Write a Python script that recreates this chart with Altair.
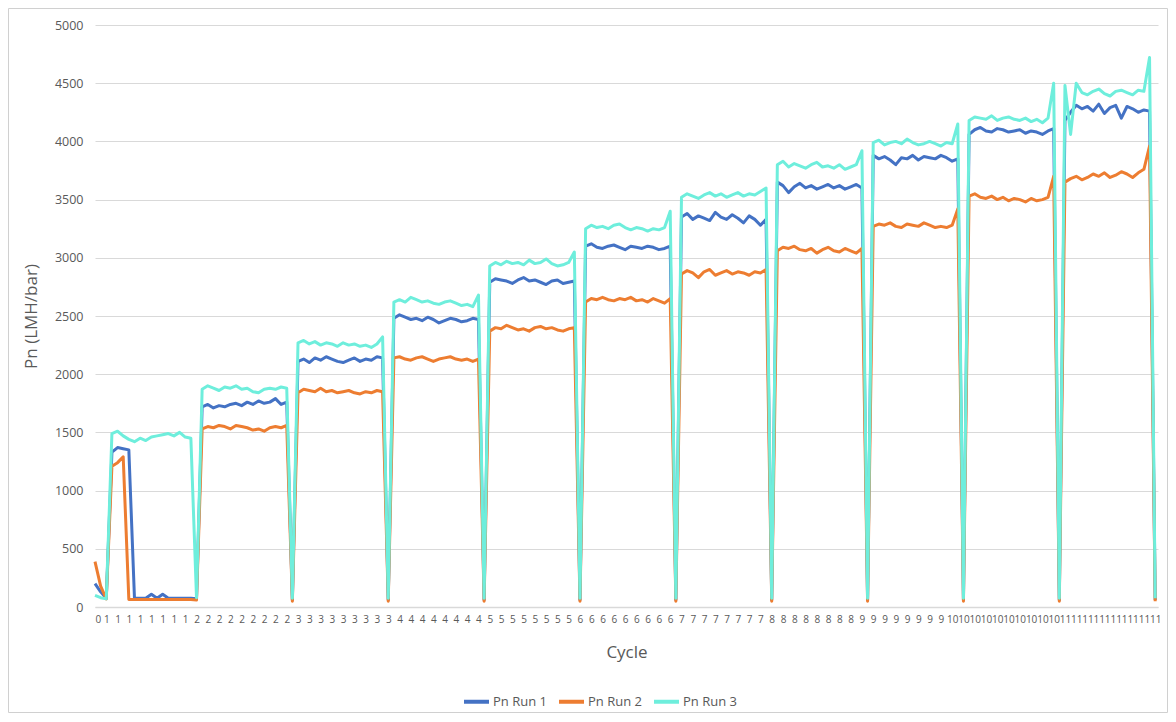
import altair as alt
import pandas as pd

# Tick labels of the category axis (one label every 2 samples)
cycle_labels = (
    ["0"]
    + ["1", "1", "1", "1", "1", "1", "1", "1"]
    + ["2", "2", "2", "2", "2", "2", "2", "2", "2"]
    + ["3", "3", "3", "3", "3", "3", "3", "3", "3"]
    + ["4", "4", "4", "4", "4", "4", "4", "4"]
    + ["5", "5", "5", "5", "5", "5", "5", "5"]
    + ["6", "6", "6", "6", "6", "6", "6", "6", "6"]
    + ["7", "7", "7", "7", "7", "7", "7", "7"]
    + ["8", "8", "8", "8", "8", "8", "8", "8"]
    + ["9", "9", "9", "9", "9", "9", "9", "9"]
    + ["10", "10", "10", "10", "10", "10", "10", "10", "10", "10"]
    + ["11", "11", "11", "11", "11", "11", "11", "11", "11"]
)

series_names = ["Pn Run 1", "Pn Run 2", "Pn Run 3"]
series_colors = ["#4472C4", "#ED7D31", "#6EEEDC"]
y_ticks = [0, 500, 1000, 1500, 2000, 2500, 3000, 3500, 4000, 4500, 5000]

run1 = [
    200, 130, 75,
    1330, 1370, 1360, 1350, 75, 75, 75, 110, 75, 110, 75, 75, 75, 75, 75,
    70,
    1720, 1740, 1710, 1730, 1720, 1740, 1750, 1730, 1760, 1740, 1770, 1750, 1760, 1790, 1740, 1760,
    60,
    2110, 2130, 2100, 2140, 2120, 2150, 2130, 2110, 2100, 2120, 2140, 2110, 2130, 2120, 2150, 2140,
    60,
    2480, 2510, 2490, 2470, 2480, 2460, 2490, 2470, 2440, 2460, 2480, 2470, 2450, 2460, 2480, 2470,
    60,
    2790, 2820, 2810, 2800, 2780, 2810, 2830, 2800, 2810, 2790, 2770, 2800, 2810, 2780, 2790, 2800,
    60,
    3100, 3120, 3090, 3080, 3100, 3110, 3090, 3070, 3100, 3090, 3080, 3100, 3090, 3070, 3080, 3100,
    60,
    3350, 3380, 3330, 3360, 3340, 3320, 3390, 3350, 3330, 3370, 3340, 3300, 3360, 3330, 3280, 3330,
    60,
    3650, 3620, 3560, 3610, 3640, 3600, 3620, 3590, 3610, 3630, 3600, 3620, 3590, 3610, 3630, 3600,
    60,
    3880, 3850, 3870, 3840, 3800, 3860, 3850, 3880, 3840, 3870, 3860, 3850, 3880, 3860, 3830, 3850,
    60,
    4060, 4100, 4120, 4090, 4080, 4110, 4100, 4080, 4090, 4100, 4070, 4090, 4080, 4060, 4090, 4110,
    60,
    4180, 4250, 4310, 4280, 4300, 4260, 4320, 4240, 4290, 4310, 4200, 4300, 4280, 4250, 4270, 4260,
    60,
]

run2 = [
    390, 180, 70,
    1210, 1240, 1290, 65, 65, 65, 65, 65, 65, 65, 65, 65, 65, 65, 65,
    60,
    1530, 1550, 1540, 1560, 1550, 1530, 1560, 1550, 1540, 1520, 1530, 1510, 1540, 1550, 1540, 1560,
    50,
    1840, 1870, 1860, 1850, 1880, 1850, 1860, 1840, 1850, 1860, 1840, 1830, 1850, 1840, 1860, 1850,
    50,
    2140, 2150, 2130, 2120, 2140, 2150, 2130, 2110, 2130, 2140, 2150, 2130, 2120, 2130, 2110, 2130,
    50,
    2370, 2400, 2390, 2420, 2400, 2380, 2390, 2370, 2400, 2410, 2390, 2400, 2380, 2370, 2390, 2400,
    50,
    2620, 2650, 2640, 2660, 2640, 2630, 2650, 2640, 2660, 2630, 2640, 2620, 2650, 2630, 2610, 2650,
    50,
    2860, 2890, 2870, 2830, 2880, 2900, 2850, 2870, 2890, 2860, 2880, 2870, 2850, 2880, 2870, 2900,
    50,
    3060, 3090, 3080, 3100, 3070, 3060, 3080, 3040, 3070, 3090, 3060, 3050, 3080, 3060, 3040, 3080,
    50,
    3270, 3290, 3280, 3300, 3270, 3260, 3290, 3280, 3270, 3300, 3280, 3260, 3270, 3260, 3280, 3420,
    50,
    3530, 3550, 3520, 3510, 3530, 3500, 3520, 3490, 3510, 3500, 3480, 3510, 3490, 3500, 3520, 3700,
    50,
    3650, 3680, 3700, 3670, 3690, 3720, 3700, 3730, 3690, 3710, 3740, 3720, 3690, 3730, 3760, 3960,
    50,
]

run3 = [
    100, 80, 70,
    1490, 1510, 1470, 1440, 1420, 1450, 1430, 1460, 1470, 1480, 1490, 1470, 1500, 1460, 1450,
    80,
    1870, 1900, 1880, 1860, 1890, 1880, 1900, 1870, 1880, 1850, 1840, 1870, 1880, 1870, 1890, 1880,
    75,
    2270, 2290, 2260, 2280, 2250, 2270, 2260, 2240, 2270, 2250, 2260, 2240, 2250, 2230, 2260, 2320,
    75,
    2620, 2640, 2620, 2660, 2640, 2620, 2630, 2610, 2600, 2620, 2630, 2610, 2590, 2600, 2580, 2680,
    75,
    2930, 2960, 2940, 2970, 2950, 2960, 2940, 2980, 2950, 2960, 2990, 2950, 2930, 2940, 2960, 3050,
    75,
    3250, 3280, 3260, 3270, 3250, 3280, 3290, 3260, 3240, 3260, 3250, 3230, 3250, 3240, 3260, 3400,
    75,
    3520, 3550, 3530, 3510, 3540, 3560, 3530, 3550, 3520, 3540, 3560, 3530, 3550, 3540, 3570, 3600,
    75,
    3800, 3830, 3780, 3810, 3790, 3770, 3800, 3820, 3780, 3790, 3770, 3800, 3760, 3780, 3800, 3920,
    75,
    3990, 4010, 3970, 3990, 4000, 3980, 4020, 3990, 3970, 3980, 4000, 3980, 3960, 3990, 3980, 4150,
    75,
    4180, 4210, 4200, 4190, 4220, 4180, 4200, 4210, 4190, 4180, 4200, 4170, 4190, 4160, 4200, 4500,
    75,
    4480, 4060, 4500, 4420, 4400, 4430, 4450, 4410, 4390, 4430, 4440, 4420, 4400, 4440, 4430, 4720,
    75,
]

assert len(run1) == len(run2) == len(run3) == 189
assert len(cycle_labels) == 95

rows = []
for name, vals in zip(series_names, [run1, run2, run3]):
    for k, v in enumerate(vals):
        rows.append({"sample": k, "Pn": v, "series": name})
df = pd.DataFrame(rows)

label_js = "[" + ",".join("'" + s + "'" for s in cycle_labels) + "]"
tick_values = [2 * i for i in range(len(cycle_labels))]

GRAY = "#595959"
GRID = "#D9D9D9"
W, H = 1063, 582

lines = alt.Chart(df).mark_line(strokeWidth=3, strokeJoin="round").encode(
    x=alt.X(
        "sample:Q",
        scale=alt.Scale(domain=[0, 188.5], nice=False, zero=False),
        axis=alt.Axis(
            title="Cycle",
            values=tick_values,
            labelExpr=label_js + "[datum.value/2]",
            labelOverlap=False,
            labelFontSize=10,
            labelColor=GRAY,
            labelPadding=7,
            ticks=False,
            grid=False,
            domainColor=GRID,
            domainWidth=1.5,
            titleFontSize=17,
            titleFontWeight="normal",
            titleColor=GRAY,
            titlePadding=20,
        ),
    ),
    y=alt.Y(
        "Pn:Q",
        scale=alt.Scale(domain=[0, 5000], nice=False),
        axis=alt.Axis(
            title="Pn (LMH/bar)",
            values=y_ticks,
            format="d",
            labelFontSize=12.5,
            labelColor=GRAY,
            labelPadding=12,
            ticks=False,
            domain=False,
            gridColor=GRID,
            gridWidth=1,
            titleFontSize=17,
            titleFontWeight="normal",
            titleColor=GRAY,
            titlePadding=14,
        ),
    ),
    color=alt.Color(
        "series:N",
        scale=alt.Scale(domain=series_names, range=series_colors),
        legend=alt.Legend(
            title=None,
            orient="none",
            direction="horizontal",
            legendX=367,
            legendY=662,
            symbolType="stroke",
            symbolSize=625,
            symbolStrokeWidth=4,
            labelFontSize=13,
            labelColor=GRAY,
            labelOffset=2,
            columnPadding=4,
        ),
    ),
)

frame = alt.Chart(alt.Data(values=[{}])).mark_rect(
    fill="transparent", stroke="#D0D0D0", strokeWidth=1
).encode(
    x=alt.value(-86.5), x2=alt.value(W + 9.5),
    y=alt.value(-16.5), y2=alt.value(H + 105.5),
)

chart = alt.layer(frame, lines).properties(
    width=W,
    height=H,
    autosize=alt.AutoSizeParams(type="none"),
    padding={"left": 87, "top": 17, "right": 10, "bottom": 107},
).configure(
    font="Open Sans",
    background="white",
).configure_view(stroke=None)

chart.save("out.html", embed_options={"renderer": "svg", "actions": False})
